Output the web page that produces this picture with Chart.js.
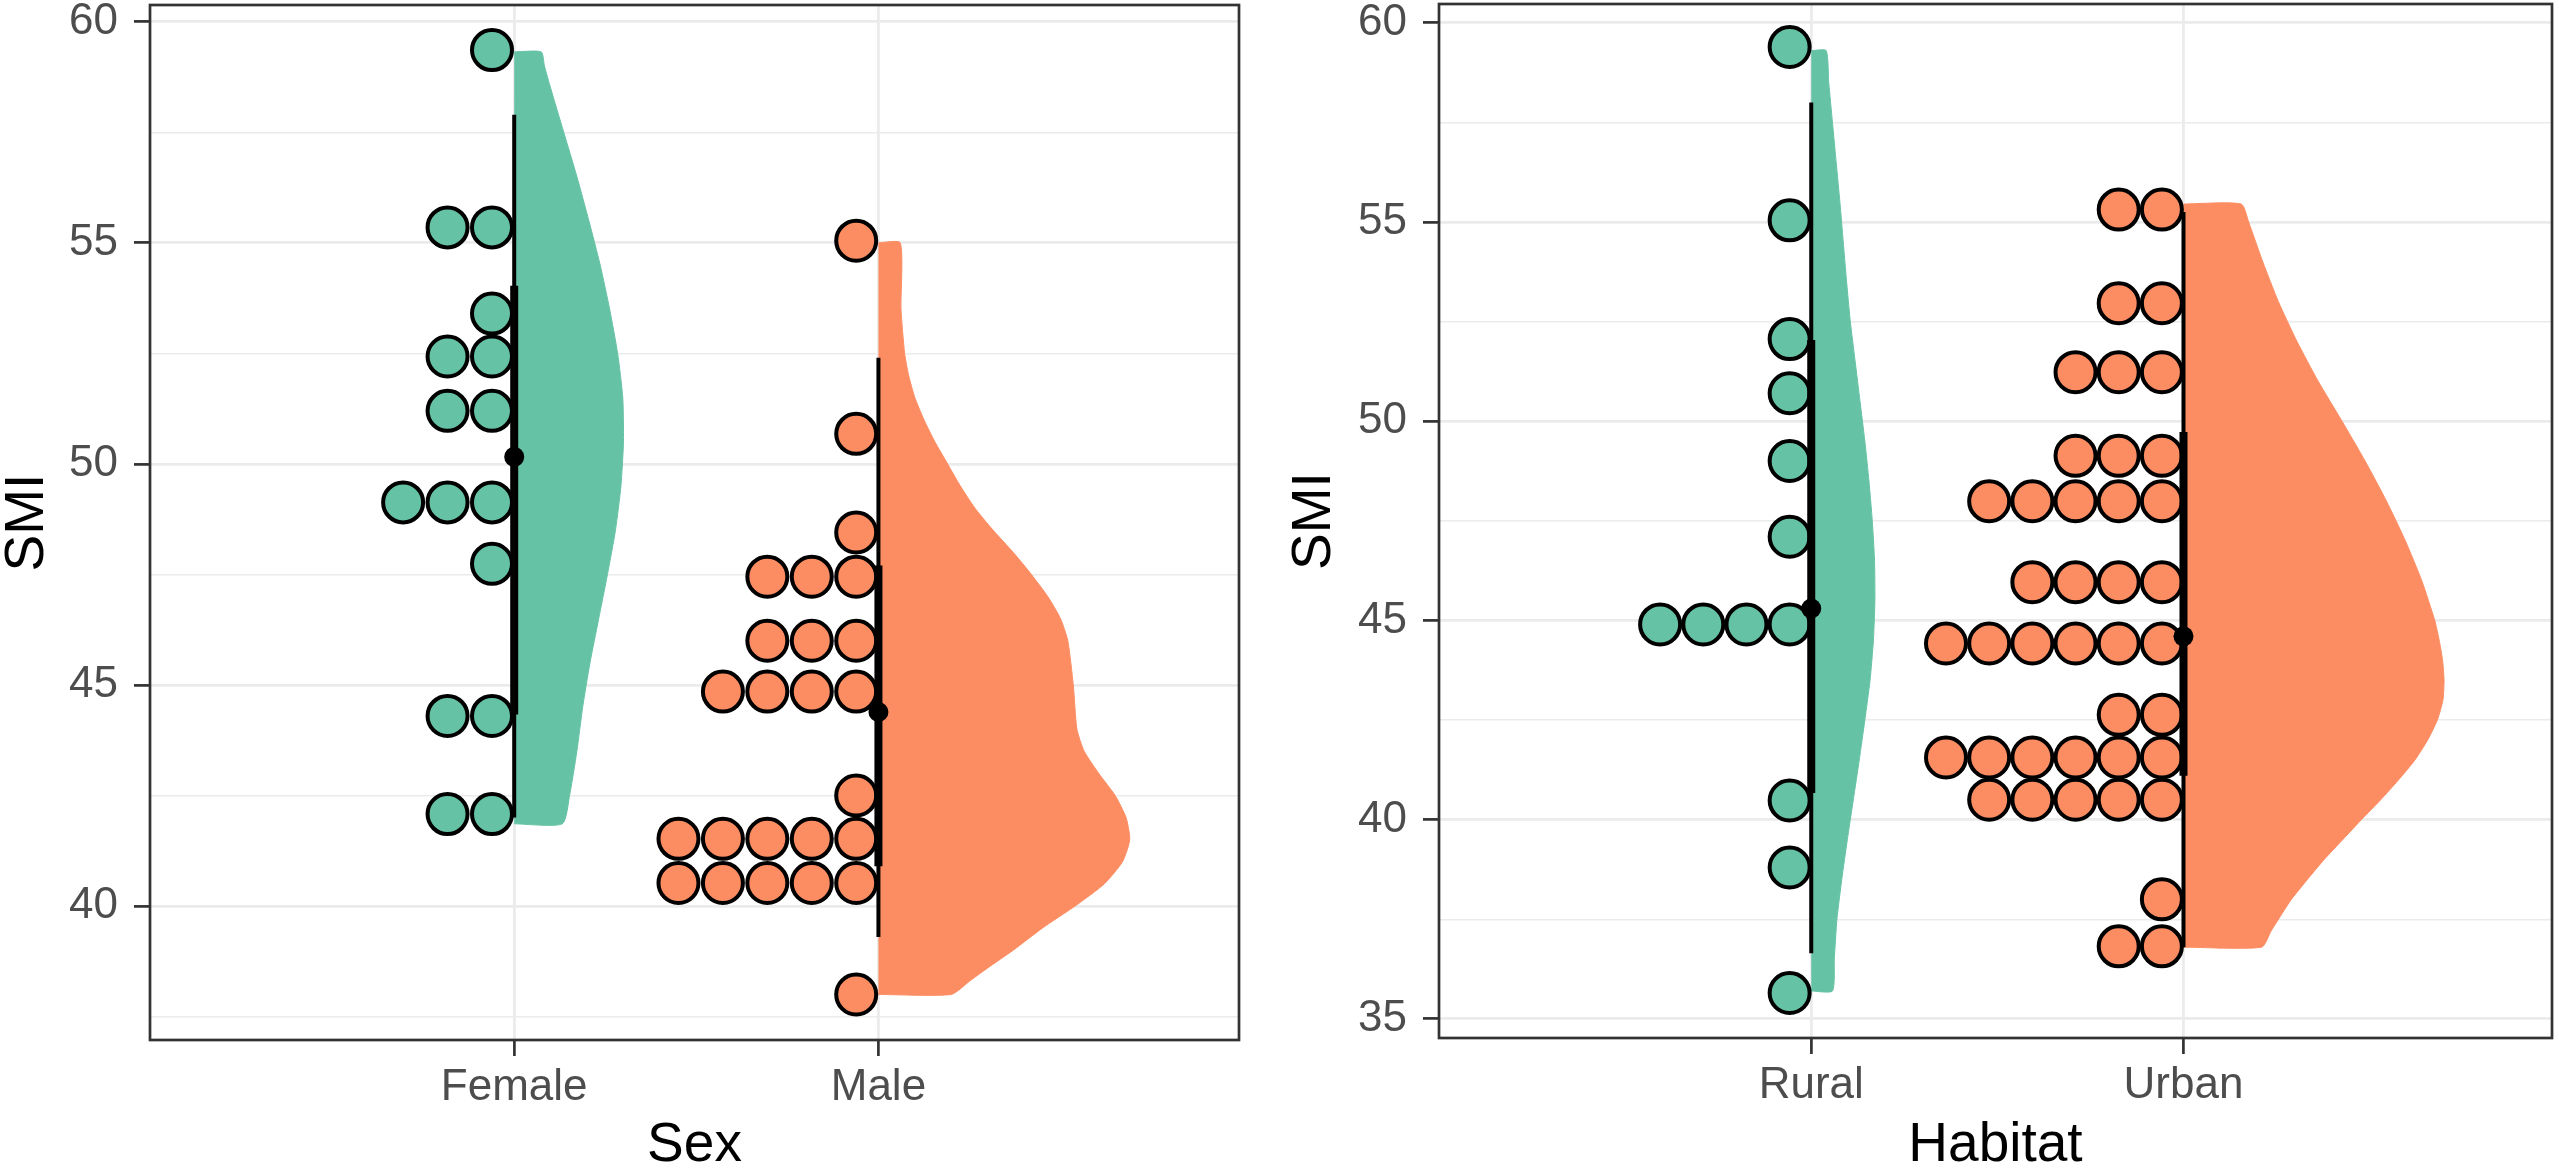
<!DOCTYPE html>
<html>
<head>
<meta charset="utf-8">
<script src="https://cdn.jsdelivr.net/npm/chart.js@4.4.1/dist/chart.umd.min.js"></script>
<style>
  html, body { margin: 0; padding: 0; background: #ffffff; }
  #sex-box { position: absolute; left: 0; top: 0; width: 1287px; height: 1173px; }
  #habitat-box { position: absolute; left: 1287px; top: 0; width: 1272px; height: 1173px; }
</style>
</head>
<body>
<div id="sex-box"><canvas id="sex-chart"></canvas></div>
<div id="habitat-box"><canvas id="habitat-chart"></canvas></div>
<script>
// categories
const sexCategories = ['Female', 'Male'];
const habitatCategories = ['Rural', 'Urban'];

// y tick labels
const sexTicks = [40, 45, 50, 55, 60];
const habitatTicks = [35, 40, 45, 50, 55, 60];

// SMI per animal (binned as in the dotplot)
const femaleSMI = [59.36, 55.35, 55.35, 53.4, 52.43, 52.43, 51.2, 51.2, 49.13, 49.13, 49.13,
  47.74, 44.3, 44.3, 42.08, 42.08];
const maleSMI = [55.05, 50.68, 48.45, 47.45, 47.45, 47.45, 46.0, 46.0, 46.0, 44.85, 44.85, 44.85,
  44.85, 42.5, 41.52, 41.52, 41.52, 41.52, 41.52, 40.52, 40.52, 40.52, 40.52, 40.52, 38.0];
const ruralSMI = [59.39, 55.04, 52.06, 50.7, 49.0, 47.1, 44.9, 44.9, 44.9, 44.9, 40.48, 38.8, 35.65];
const urbanSMI = [55.31, 55.31, 52.96, 52.96, 51.23, 51.23, 51.23, 49.13, 49.13, 49.13,
  47.99, 47.99, 47.99, 47.99, 47.99, 45.96, 45.96, 45.96, 45.96,
  44.42, 44.42, 44.42, 44.42, 44.42, 44.42, 42.63, 42.63,
  41.56, 41.56, 41.56, 41.56, 41.56, 41.56, 40.5, 40.5, 40.5, 40.5, 40.5, 38.0, 36.82, 36.82];

// half-eye density outline: SMI level and half width (category units)
const femaleDensitySMI = [41.86, 42.5, 43.5, 44.5, 45.5, 46.5, 47.5, 48.5, 49.5, 50.5, 51.5, 52.5,
  53.5, 54.5, 55.5, 56.5, 57.5, 58.5, 59.0, 59.32];
const femaleDensityWidth = [0.132, 0.152, 0.172, 0.188, 0.208, 0.232, 0.256, 0.278, 0.293, 0.30, 0.298, 0.284,
  0.262, 0.236, 0.205, 0.172, 0.136, 0.1, 0.083, 0.074];
const maleDensitySMI = [38.0, 38.3, 38.6, 39.0, 39.5, 40.0, 40.5, 41.0, 41.5, 42.0, 42.5, 43.0, 43.5, 44.0,
  45.0, 46.0, 46.5, 47.0, 47.5, 48.0, 48.5, 49.0, 49.5, 50.0, 50.5, 51.0, 51.5, 52.0, 52.5, 53.5, 55.0];
const maleDensityWidth = [0.2, 0.25, 0.3, 0.37, 0.45, 0.54, 0.62, 0.67, 0.69, 0.68, 0.65, 0.605, 0.565, 0.545,
  0.535, 0.52, 0.5, 0.465, 0.42, 0.37, 0.315, 0.265, 0.225, 0.19, 0.155, 0.125, 0.1, 0.083, 0.072, 0.062, 0.06];
const ruralDensitySMI = [35.7, 36.5, 37.5, 38.5, 39.5, 40.5, 41.5, 42.5, 43.5, 44.5, 45.5, 46.5, 47.5,
  48.5, 49.5, 50.5, 51.5, 52.5, 53.5, 54.5, 55.5, 56.5, 57.5, 58.5, 59.3];
const ruralDensityWidth = [0.057, 0.062, 0.069, 0.082, 0.097, 0.113, 0.129, 0.144, 0.158, 0.167, 0.171, 0.17, 0.164,
  0.155, 0.144, 0.131, 0.118, 0.105, 0.095, 0.086, 0.077, 0.067, 0.057, 0.047, 0.04];
const urbanDensitySMI = [36.8, 37.2, 37.6, 38.0, 38.5, 39.0, 39.5, 40.0, 40.5, 41.0, 41.5, 42.0, 42.5, 43.0,
  43.5, 44.0, 44.5, 45.0, 46.0, 47.0, 48.0, 49.0, 50.0, 51.0, 52.0, 53.0, 54.0, 55.0, 55.45];
const urbanDensityWidth = [0.21, 0.235, 0.262, 0.29, 0.333, 0.378, 0.428, 0.478, 0.53, 0.578, 0.622, 0.656, 0.682, 0.697,
  0.7, 0.696, 0.687, 0.675, 0.64, 0.596, 0.545, 0.488, 0.426, 0.362, 0.305, 0.255, 0.213, 0.175, 0.155];

// interval: [outer low, inner low, median, inner high, outer high]
const femaleInterval = [42.0, 44.33, 50.16, 54.03, 57.9];
const maleInterval = [39.3, 40.9, 44.39, 47.7, 52.4];
const ruralInterval = [36.65, 40.67, 45.3, 52.04, 58.0];
const urbanInterval = [36.8, 41.1, 44.6, 49.73, 55.25];

const groupColors = ['#66C2A5', '#FC8D62'];
const FONT = "'Liberation Sans', Arial, sans-serif";

Chart.defaults.font.family = FONT;
Chart.defaults.plugins.legend.display = false;
Chart.defaults.plugins.tooltip.enabled = false;

// stack equal values to the left of the category line
function dotPoints(values, pos, step) {
  const seen = {};
  return values.map(v => {
    const k = seen[v] || 0;
    seen[v] = k + 1;
    return { x: pos - step * (k + 0.5), y: v };
  });
}

// closed outline of the half violin, right of the category line
function shapePoints(levels, widths, pos) {
  const pts = [{ x: pos, y: levels[0] }];
  levels.forEach((y, i) => pts.push({ x: pos + widths[i], y: y }));
  pts.push({ x: pos, y: levels[levels.length - 1] });
  return pts;
}

function groupDatasets(values, densSMI, densWidth, interval, pos, color, step) {
  return [
    { // median
      data: [{ x: pos, y: interval[2] }],
      pointRadius: 10, pointBackgroundColor: '#000', pointBorderWidth: 0, order: 1
    },
    { // thick interval
      data: [{ x: pos, y: interval[1] }, { x: pos, y: interval[3] }],
      showLine: true, borderColor: '#000', borderWidth: 8, pointRadius: 0, order: 2
    },
    { // thin interval
      data: [{ x: pos, y: interval[0] }, { x: pos, y: interval[4] }],
      showLine: true, borderColor: '#000', borderWidth: 4, pointRadius: 0, order: 2
    },
    { // dots
      data: dotPoints(values, pos, step),
      pointRadius: 20, pointBorderWidth: 4,
      pointBackgroundColor: color, pointBorderColor: '#000', order: 3
    },
    { // half eye
      data: shapePoints(densSMI, densWidth, pos),
      showLine: true, fill: 'shape', tension: 0.2,
      backgroundColor: color, borderColor: color, borderWidth: 1, pointRadius: 0, order: 4
    }
  ];
}

const panelBorder = {
  id: 'panelBorder',
  afterDraw(chart) {
    const { ctx, chartArea: a } = chart;
    ctx.save();
    ctx.strokeStyle = '#333333';
    ctx.lineWidth = 2.7;
    ctx.strokeRect(a.left, a.top, a.right - a.left, a.bottom - a.top);
    ctx.restore();
  }
};

function makePanel(canvas, opt) {
  const grid = [];
  opt.ticks.forEach(v => {
    if (v - 2.5 > opt.yMin && !grid.includes(v - 2.5)) grid.push(v - 2.5);
    grid.push(v);
    if (v + 2.5 < opt.yMax) grid.push(v + 2.5);
  });
  const isMajor = v => opt.ticks.includes(v);
  let datasets = [];
  opt.groups.forEach((g, i) => {
    datasets = datasets.concat(groupDatasets(g.values, g.densSMI, g.densWidth, g.interval, i + 1, groupColors[i], opt.step));
  });

  return new Chart(canvas, {
    type: 'scatter',
    data: { datasets: datasets },
    options: {
      responsive: true,
      maintainAspectRatio: false,
      animation: false,
      events: [],
      layout: { padding: opt.padding, autoPadding: false },
      scales: {
        x: {
          type: 'linear', min: 0, max: 2.99,
          afterBuildTicks: s => { s.ticks = opt.categories.map((c, i) => ({ value: i + 1 })); },
          afterFit: s => { s.height = opt.xHeight; s.paddingLeft = 0; s.paddingRight = 0; },
          ticks: {
            callback: v => opt.categories[Math.round(v) - 1],
            font: { size: 44 }, color: '#4D4D4D', padding: 5, maxRotation: 0, autoSkip: false
          },
          grid: { color: '#EBEBEB', lineWidth: 2.8, tickColor: '#333333', tickLength: 16, tickWidth: 2.7 },
          border: { display: false },
          title: { display: true, text: opt.xTitle, color: '#000', font: { size: 55, lineHeight: 1 }, padding: 0 }
        },
        y: {
          type: 'linear', min: opt.yMin, max: opt.yMax,
          afterBuildTicks: s => { s.ticks = grid.map(v => ({ value: v })); },
          afterFit: s => { s.width = opt.yWidth; s.paddingTop = 0; s.paddingBottom = 0; },
          ticks: {
            callback: v => (isMajor(v) ? String(v) : ''),
            font: { size: 44 }, color: '#4D4D4D', padding: 16, autoSkip: false
          },
          grid: {
            color: '#EBEBEB',
            lineWidth: c => (c.tick && isMajor(c.tick.value) ? 2.8 : 1.5),
            tickColor: c => (c.tick && isMajor(c.tick.value) ? '#333333' : 'rgba(0,0,0,0)'),
            tickLength: 16, tickWidth: 2.7
          },
          border: { display: false },
          title: { display: true, text: 'SMI', color: '#000', font: { size: 55, lineHeight: 1 }, padding: 0 }
        }
      }
    },
    plugins: [panelBorder]
  });
}

makePanel(document.getElementById('sex-chart'), {
  categories: sexCategories,
  ticks: sexTicks,
  xTitle: 'Sex',
  yMin: 36.97, yMax: 60.38,
  step: 0.122,
  yWidth: 150, xHeight: 133,
  padding: { top: 5, right: 48, left: 0, bottom: 0 },
  groups: [
    { values: femaleSMI, densSMI: femaleDensitySMI, densWidth: femaleDensityWidth, interval: femaleInterval },
    { values: maleSMI, densSMI: maleDensitySMI, densWidth: maleDensityWidth, interval: maleInterval }
  ]
});

makePanel(document.getElementById('habitat-chart'), {
  categories: habitatCategories,
  ticks: habitatTicks,
  xTitle: 'Habitat',
  yMin: 34.52, yMax: 60.47,
  step: 0.116,
  yWidth: 152, xHeight: 135,
  padding: { top: 4, right: 7, left: 0, bottom: 0 },
  groups: [
    { values: ruralSMI, densSMI: ruralDensitySMI, densWidth: ruralDensityWidth, interval: ruralInterval },
    { values: urbanSMI, densSMI: urbanDensitySMI, densWidth: urbanDensityWidth, interval: urbanInterval }
  ]
});
</script>
</body>
</html>
